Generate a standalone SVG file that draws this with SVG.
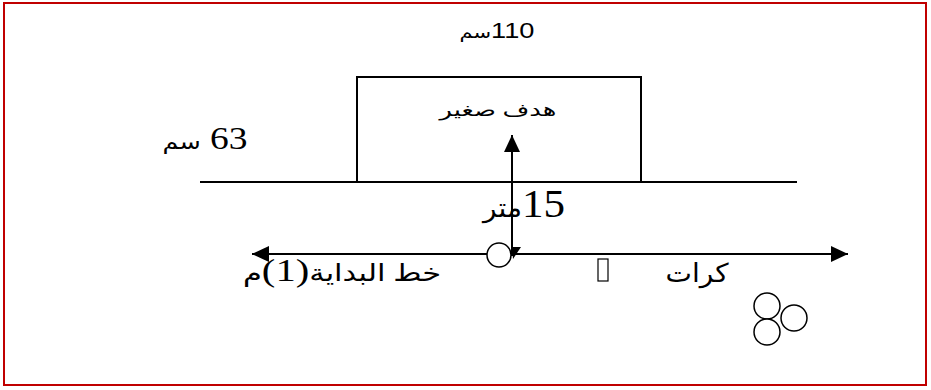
<svg xmlns="http://www.w3.org/2000/svg" width="931" height="390" viewBox="0 0 931 390">
<style>
.ln{stroke:#000;stroke-width:2;fill:none}
.t{font-family:"Liberation Serif","DejaVu Sans",serif;fill:#000}
.s{font-family:"Liberation Sans","DejaVu Sans",sans-serif;fill:#000}
.ball{fill:#fff;stroke:#000;stroke-width:1.5}
</style>
<defs>
<marker id="ah" viewBox="0 0 17 16" refX="17" refY="8" markerWidth="17" markerHeight="16" markerUnits="userSpaceOnUse" orient="auto-start-reverse">
<path d="M0,0 L17,8 L0,16 Z" fill="#000"/>
</marker>
</defs>
<rect id="frame" x="4" y="3" width="922" height="382" fill="#fff" stroke="#c00000" stroke-width="2"/>
<g id="label-width"><text class="s" x="497" y="38" font-size="22" text-anchor="middle" direction="rtl" textLength="75" lengthAdjust="spacingAndGlyphs">110<tspan font-size="17">سم</tspan></text></g>
<g id="goal">
<rect x="357" y="77" width="284" height="105" class="ln"/>
<text class="t" x="498" y="116" font-size="18" text-anchor="middle" textLength="117" lengthAdjust="spacingAndGlyphs">هدف صغير</text>
</g>
<g id="label-height"><text class="t" x="205" y="149" font-size="31" text-anchor="middle" direction="rtl" textLength="85" lengthAdjust="spacingAndGlyphs">63 <tspan font-size="21">سم</tspan></text></g>
<g id="goal-line"><line x1="200" y1="182" x2="797" y2="182" class="ln"/></g>
<g id="connectors">
<line x1="252" y1="254" x2="848" y2="254" class="ln" marker-start="url(#ah)" marker-end="url(#ah)"/>
<line x1="512" y1="256" x2="512" y2="135" class="ln" marker-end="url(#ah)"/>
<path d="M512,247 L521,247 L513,259 Z" fill="#000"/>
</g>
<g id="label-distance"><text class="t" x="524" y="217" font-size="40" text-anchor="middle" direction="rtl" textLength="82" lengthAdjust="spacingAndGlyphs">15<tspan font-size="26">متر</tspan></text></g>
<g id="start-ball"><circle cx="499" cy="255" r="12" class="ball"/></g>
<g id="marker-box"><rect x="598" y="259" width="10" height="22" fill="#fff" stroke="#000" stroke-width="1.2"/></g>
<g id="label-start"><text class="t" x="342" y="281" font-size="24" text-anchor="middle" direction="rtl" textLength="198" lengthAdjust="spacingAndGlyphs">خط البداية<tspan font-size="32">(1)</tspan>م</text></g>
<g id="label-balls"><text class="t" x="697" y="282" font-size="26" text-anchor="middle" textLength="63" lengthAdjust="spacingAndGlyphs">كرات</text></g>
<g id="balls">
<circle cx="767" cy="306" r="13" class="ball"/>
<circle cx="794" cy="318" r="13" class="ball"/>
<circle cx="767" cy="332" r="13" class="ball"/>
</g>
</svg>
